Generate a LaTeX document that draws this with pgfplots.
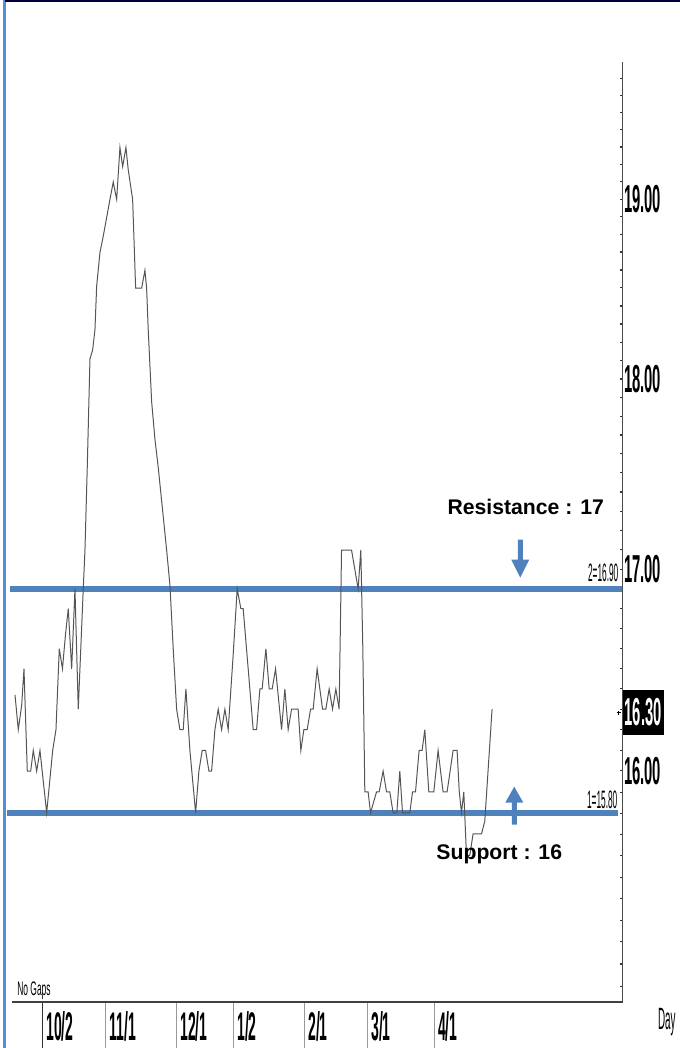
\documentclass[border=0pt]{standalone}
\usepackage{fontspec}
\setmainfont{Liberation Sans}
\newfontfamily\tickfont[FakeStretch=0.38]{Liberation Sans Bold}
\newfontfamily\datefont[FakeStretch=0.35]{Liberation Sans Bold}
\newfontfamily\smallfont[FakeStretch=0.33]{Liberation Sans}
\newfontfamily\gapfont[FakeStretch=0.43]{Liberation Sans}
\newfontfamily\dayfont[FakeStretch=0.32]{Liberation Sans}
\usepackage{pgfplots}
\pgfplotsset{compat=1.18}
\definecolor{lineblue}{RGB}{79,129,189}
\definecolor{frameblue}{RGB}{85,142,213}
\definecolor{pricegray}{RGB}{85,85,85}

\begin{document}
\begin{tikzpicture}
\begin{scope}[x=0.5pt,y=0.5pt]
% picture box in pixels of the reference (680 x 1048)
\path[use as bounding box] (0,0) rectangle (680,1048);
\fill[frameblue] (3,0) rectangle (6,1048);
\fill[black!75!blue] (5,1046) rectangle (680,1048);
\end{scope}

% price scale is logarithmic
\begin{axis}[
    at={(6pt,23pt)}, anchor=south west,
    scale only axis,
    width=305.5pt, height=470pt,
    xmin=12, xmax=623,
    y coord trafo/.code={\pgfmathparse{ln(#1)}},
    y coord inv trafo/.code={\pgfmathparse{exp(#1)}},
    ymin=14.93, ymax=19.80,
    axis x line=bottom, axis y line=right,
    axis line style={-},
    x axis line style={line width=1pt, draw=black!75},
    y axis line style={line width=0.5pt, draw=black!70},
    clip=false,
    tick align=inside,
    major tick length=1.5pt, minor tick length=1.5pt,
    ytick style={draw=black!80, line width=0.6pt},
    xtick style={draw=none},
    ytick={16,17,18,19},
    yticklabels={16.00,17.00,18.00,19.00},
    minor ytick={15.0,15.1,15.2,15.3,15.4,15.5,15.6,15.7,15.8,15.9,
                 16.1,16.2,16.3,16.4,16.5,16.6,16.7,16.8,16.9,
                 17.1,17.2,17.3,17.4,17.5,17.6,17.7,17.8,17.9,
                 18.1,18.2,18.3,18.4,18.5,18.6,18.7,18.8,18.9,
                 19.1,19.2,19.3,19.4,19.5,19.6,19.7},
    yticklabel style={font=\tickfont\fontsize{19.5}{20}\selectfont, anchor=west, inner sep=0.5pt},
    xtick={43,106,177,234,305,368,435},
    xticklabels={10/2,11/1,12/1,1/2,2/1,3/1,4/1},
    xticklabel style={font=\datefont\fontsize{20}{21}\selectfont, anchor=north west,
                      inner sep=0pt, xshift=1.5pt, yshift=-5pt},
]
% software level line
\addplot[black, line width=0.5pt] coordinates {(15,16.89) (620,16.89)};
% drawn resistance / support levels
\addplot[lineblue, line width=3pt] coordinates {(10,16.90) (622,16.90)};
\addplot[lineblue, line width=3pt] coordinates {(7,15.80) (618,15.80)};
% daily price
\addplot[pricegray, line width=0.5pt] coordinates {
(15,16.37) (18.3,16.2) (21.7,16.32) (24,16.5) (27.3,16.0) (30.7,16.0)
(33.3,16.1) (36.7,16.0) (40,16.1) (46.7,15.8) (52.7,16.1) (56,16.2)
(59.3,16.6) (62.5,16.5) (65.5,16.67) (68.3,16.8) (71.7,16.5) (75,16.9)
(78.3,16.3) (83.3,16.9) (85,17.1) (87.3,17.53) (90,18.11) (92.7,18.16)
(95,18.27) (96.7,18.51) (100,18.7) (103.3,18.79) (110,19.0) (113.3,19.1)
(116.7,19.0) (120,19.3) (122.7,19.19) (126,19.3) (128.3,19.17) (132.7,19.0)
(135.7,18.5) (141.7,18.5) (145,18.6) (146.7,18.5) (148.3,18.27) (151.7,17.88)
(155,17.68) (158.3,17.53) (166.7,17.1) (170,16.92) (173.3,16.6) (176.7,16.3)
(180,16.2) (183.3,16.2) (186,16.4) (190,16.1) (195.7,15.8) (199,16.0)
(202.3,16.1) (205.7,16.1) (209,16.0) (211.7,16.0) (215,16.2) (218.3,16.3)
(221.7,16.2) (225,16.3) (228.3,16.2) (233.3,16.57) (237.3,16.9) (241,16.8)
(243.3,16.8) (248.3,16.5) (253.3,16.2) (256.7,16.2) (260,16.4) (262.3,16.4)
(266,16.6) (269.3,16.4) (272.3,16.4) (275.7,16.5) (281.7,16.2) (285,16.4)
(288.3,16.2) (291.7,16.3) (298.3,16.3) (301,16.1) (304,16.2) (307.3,16.2)
(310.7,16.3) (313.3,16.3) (317.3,16.5) (322.7,16.3) (326,16.3) (329.3,16.4)
(332.7,16.3) (336,16.4) (339.3,16.3) (341.7,17.1) (351.7,17.1) (358.3,16.9)
(361,17.1) (363,16.6) (365,15.9) (368.3,15.9) (370.7,15.8) (376.7,15.9)
(379.3,15.9) (383.3,16.0) (386.7,15.9) (390,15.9) (393.3,15.8) (397,15.8)
(400,16.0) (402.7,15.8) (410,15.8) (412.7,15.9) (415.7,15.9) (419.3,16.1)
(422.3,16.1) (425,16.2) (429,15.9) (434,15.9) (438.3,16.1) (443.3,15.9)
(447.3,15.9) (453.3,16.1) (457.3,16.1) (459.5,15.9) (461.7,15.8) (464,15.9)
(466.7,15.6) (470,15.6) (473.3,15.7) (481.7,15.7) (485,15.76) (492.3,16.3)
};
\end{axis}

\begin{scope}[x=0.5pt,y=0.5pt]
% month separators below the axis
\draw[black!80, line width=0.5pt] (43,45) -- (43,0);
\foreach \t in {106,177,234,305,368,435}
  \draw[black!40, line width=0.5pt] (\t,45) -- (\t,0);

% last price marker
\node[fill=black, text=white, font=\tickfont\fontsize{19.5}{20}\selectfont,
      inner xsep=1pt, minimum height=22.5pt] at (643.5,335.5) {16.30};
\draw[black, line width=0.4pt] (617,335) -- (621,335) (619,333) -- (619,337);

% level tags
\node[anchor=base east, inner sep=0pt, font=\smallfont\fontsize{12.6}{13}\selectfont] at (619,466) {2=16.90};
\node[anchor=base east, inner sep=0pt, font=\smallfont\fontsize{12.6}{13}\selectfont] at (618,239) {1=15.80};
\node[anchor=base west, inner sep=0pt, font=\gapfont\fontsize{9.8}{10}\selectfont] at (17,52) {No Gaps};
\node[anchor=base west, inner sep=0pt, font=\dayfont\fontsize{15.4}{16}\selectfont] at (658,18) {Day};

% annotations
\node[anchor=base, inner sep=0pt, font=\bfseries\fontsize{10.6}{12}\selectfont] at (526,533) {Resistance : 17};
\node[anchor=base, inner sep=0pt, font=\bfseries\fontsize{10.6}{12}\selectfont] at (499.5,188) {Support : 16};
\fill[lineblue] (518,508) -- (523,508) -- (523,488) -- (529.5,488) -- (520.5,470)
  -- (511.5,488) -- (518,488) -- cycle;
\fill[lineblue] (512,223) -- (517,223) -- (517,245) -- (523.5,245) -- (514.5,261)
  -- (505.5,245) -- (512,245) -- cycle;
\end{scope}
\end{tikzpicture}
\end{document}
